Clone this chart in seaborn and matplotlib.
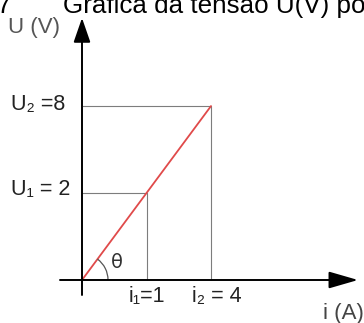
import numpy as np
import pandas as pd
import matplotlib
matplotlib.use("Agg")
import matplotlib.pyplot as plt
import matplotlib.transforms as mtransforms
from matplotlib.patches import Arc
import seaborn as sns

# Ohmic resistor: two measured points (current in A, voltage in V)
current = [1, 4]
voltage = [2, 8]
current_labels = ["i\u2081=1", "i\u2082 = 4"]
voltage_labels = ["U\u2081 = 2", "U\u2082 =8"]
title_number = "7"
title_text = "Gráfica da tensão U(V) por i(A)"
x_axis_label = "i (A)"
y_axis_label = "U (V)"
angle_label = "θ"

sns.set_theme(style="white")
plt.rcParams["font.family"] = ["Liberation Sans", "DejaVu Sans"]

W, H = 364, 323
PT = 72 / 100  # points per pixel at dpi 100

fig = plt.figure(figsize=(W / 100, H / 100), dpi=100)
ax = fig.add_axes([0, 0, 1, 1])


def fwd(v):
    v = np.asarray(v, dtype=float)
    return np.sign(v) * np.sqrt(np.abs(v))


def inv(v):
    v = np.asarray(v, dtype=float)
    return np.sign(v) * v ** 2


# schematic (square-root) scales keep the sketch compact while the line stays straight
ax.set_xscale("function", functions=(fwd, inv))
ax.set_yscale("function", functions=(fwd, inv))
ox, oy = 82, 280          # origin in pixels from top-left
sx, sy = 64.5, 61.5       # pixels per sqrt-unit
ax.set_xlim(float(inv(-ox / sx)), float(inv((W - ox) / sx)))
ax.set_ylim(float(inv(-(H - oy) / sy)), float(inv(oy / sy)))
ax.axis("off")

# guide lines from each point to the axes
for i_val, u_val in zip(current, voltage):
    ax.plot([0, i_val, i_val], [u_val, u_val, 0], color="#7d7d7d", lw=0.8,
            solid_capstyle="butt", zorder=2)

# characteristic line U = R i
line_df = pd.DataFrame({"i": [0] + current, "U": [0] + voltage})
sns.lineplot(data=line_df, x="i", y="U", color="#e04a4a", lw=1.3, sort=False,
             ax=ax, zorder=3)

# axes with arrowheads
xt = ax.get_yaxis_transform()   # x in axes fraction, y in data
yt = ax.get_xaxis_transform()   # x in data, y in axes fraction
ax.annotate("", xy=(358 / W, 0), xycoords=xt, xytext=(60 / W, 0), textcoords=xt,
            arrowprops=dict(arrowstyle="-|>,head_length=1.8,head_width=0.52",
                            mutation_scale=10, lw=1.4, color="black",
                            shrinkA=0, shrinkB=0), zorder=4)
ax.annotate("", xy=(0, 1 - 18 / H), xycoords=yt, xytext=(0, 1 - 295 / H), textcoords=yt,
            arrowprops=dict(arrowstyle="-|>,head_length=1.5,head_width=0.52",
                            mutation_scale=10, lw=1.4, color="black",
                            shrinkA=0, shrinkB=0), zorder=4)

# angle arc between the i axis and the line
fig.canvas.draw()
o = ax.transData.transform((0, 0))
p = ax.transData.transform((current[-1], voltage[-1]))
ang = np.degrees(np.arctan2(p[1] - o[1], p[0] - o[0]))
r = 26
ax.add_patch(Arc(o, 2 * r, 2 * r, theta1=0, theta2=ang, color="#555555", lw=0.9,
                 transform=mtransforms.IdentityTransform(), zorder=3))
ax.annotate(angle_label, xy=(0, 0), xytext=(35 * PT, 17 * PT), textcoords="offset points",
            ha="center", va="center", fontsize=14, color="#333333",
            family=["DejaVu Sans"])

# value labels
txt = dict(color="#222222", fontsize=15.5, va="center")
for u_val, lab, dy in zip(voltage, voltage_labels, [4, 2]):
    ax.annotate(lab, xy=(11 / W, u_val), xycoords=xt, xytext=(0, dy * PT),
                textcoords="offset points", ha="left", **txt)
for i_val, lab, dx in zip(current, current_labels, [0, 6]):
    ax.annotate(lab, xy=(i_val, 0), xytext=(dx * PT, -17 * PT),
                textcoords="offset points", ha="center", **txt)

# axis names
ax.text(8 / W, 1 - 28 / H, y_axis_label, transform=ax.transAxes, ha="left", va="center",
        fontsize=16, color="#555555")
ax.text(323 / W, 1 - 313 / H, x_axis_label, transform=ax.transAxes, ha="left", va="center",
        fontsize=16, color="#444444")

# heading
ax.text(-3 / W, 1 - 13 / H, title_number, transform=ax.transAxes, ha="left",
        va="baseline", fontsize=18.7, color="black")
ax.text(63 / W, 1 - 13 / H, title_text, transform=ax.transAxes, ha="left",
        va="baseline", fontsize=18.7, color="black")

fig.savefig("out.png", dpi=100)
